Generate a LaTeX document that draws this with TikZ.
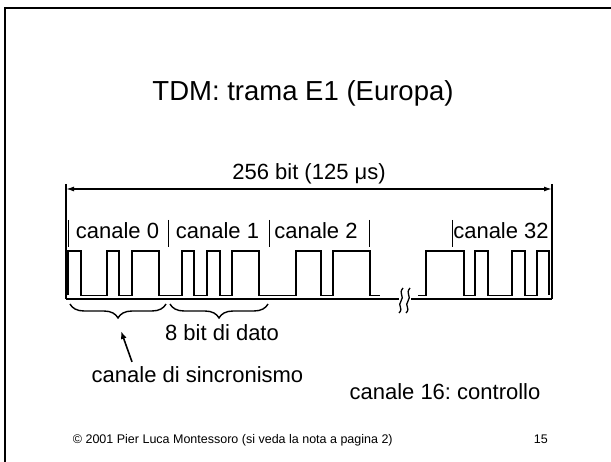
\documentclass[tikz,border=0pt]{standalone}
\usepackage{fontspec}
\setmainfont{Liberation Sans}
\usetikzlibrary{arrows.meta,decorations.pathreplacing,positioning}

\begin{document}
\frenchspacing
\begin{tikzpicture}[x=1pt, y=-1pt,
        label/.style={inner sep=0pt, anchor=base, font=\fontsize{22}{26}\selectfont},
        small/.style={inner sep=0pt, font=\fontsize{12.5}{15}\selectfont},
        divider/.style={line width=0.8pt},
        wave/.style={line width=1.8pt, line join=miter},
        paths/.style={line width=1.6pt, -{Latex[length=8pt,width=6pt]}},
        dimline/.style={line width=1.4pt, {Latex[length=8pt,width=5pt]}-{Latex[length=8pt,width=5pt]}},
        bracket/.style={line width=1.4pt, decorate, decoration={brace, mirror, amplitude=14pt}}
    ]
    \useasboundingbox (0,0) rectangle (611,462);
    \clip (0,0) rectangle (611,462);
    \def\hi{251}
    \def\lo{295.5}

        % Frame
        \draw[line width=2pt] (5,480) -- (5,8) -- (630,8);

        % Title
        \node[inner sep=0pt, anchor=base, font=\fontsize{27.5}{32}\selectfont] (title) at (303,101) {TDM: trama E1 (Europa)};

        % Frame length
        \coordinate (dimL) at (66,189);
        \coordinate (dimR) at (552,189);
        \draw[line width=1.6pt] (66,184) -- (66,299);
        \draw[line width=1.6pt] (552,184) -- (552,299);
        \draw[dimline] (dimL) -- (dimR);
        \node[label] (length) at (309,180) {256 bit (125 μs)};

        % Channels
        \foreach \x in {68,168,269,369,452}
            \draw[divider] (\x,220) -- (\x,247);
        \node[label] (ch0) at (117.5,239) {canale 0};
        \node[label] (ch1) at (217.5,239) {canale 1};
        \node[label] (ch2) at (316,239) {canale 2};
        \node[label] (ch32) at (501,239) {canale 32};

        % Bits
        \draw[wave] (68,\lo) -- (68,\hi) -- (81,\hi) -- (81,\lo) -- (106.7,\lo) -- (106.7,\hi)
            -- (119,\hi) -- (119,\lo) -- (131.7,\lo) -- (131.7,\hi) -- (159.3,\hi) -- (159.3,\lo)
            -- (181.7,\lo) -- (181.7,\hi) -- (194,\hi) -- (194,\lo) -- (207.3,\lo) -- (207.3,\hi)
            -- (220,\hi) -- (220,\lo) -- (232.3,\lo) -- (232.3,\hi) -- (259.3,\hi) -- (259.3,\lo)
            -- (295.7,\lo) -- (295.7,\hi) -- (320.7,\hi) -- (320.7,\lo) -- (332.7,\lo) -- (332.7,\hi)
            -- (370,\hi) -- (370,\lo) -- (380,\lo);
        \draw[wave] (418,\lo) -- (426,\lo) -- (426,\hi) -- (464.3,\hi) -- (464.3,\lo) -- (475,\lo)
            -- (475,\hi) -- (487.7,\hi) -- (487.7,\lo) -- (512.3,\lo) -- (512.3,\hi) -- (525,\hi)
            -- (525,\lo) -- (537.3,\lo) -- (537.3,\hi) -- (549.3,\hi) -- (549.3,\lo);

        % Time axis with break
        \draw[line width=1.6pt] (66,299) -- (399,299);
        \draw[line width=1.6pt] (411,299) -- (552,299);
        \draw[line width=1.3pt] (403,288) .. controls (398,294) and (405,296) .. (401,301) .. controls (397,306) and (404,308) .. (399,313);
        \draw[line width=1.3pt] (410,288) .. controls (405,294) and (412,296) .. (408,301) .. controls (404,306) and (411,308) .. (406,313);

        % Braces
        \draw[bracket] (70,304) -- (166,304);
        \draw[bracket] (170,304) -- (268,304);
        \coordinate (synctip) at (121,331);
        \node[label] (data) at (222,341) {8 bit di dato};
        \node[label] (sync) at (197.5,383) {canale di sincronismo};
        \draw[paths] ([xshift=-65.5pt,yshift=5pt]sync.north) -- (synctip);
        \node[label] (ctrl) at (445,400) {canale 16: controllo};

        % Footer
        \node[small, anchor=base west] (copy) at (72.7,443) {© 2001 Pier Luca Montessoro (si veda la nota a pagina 2)};
        \node[small, anchor=base east] (page) at (548,443) {15};
\end{tikzpicture}
\end{document}
